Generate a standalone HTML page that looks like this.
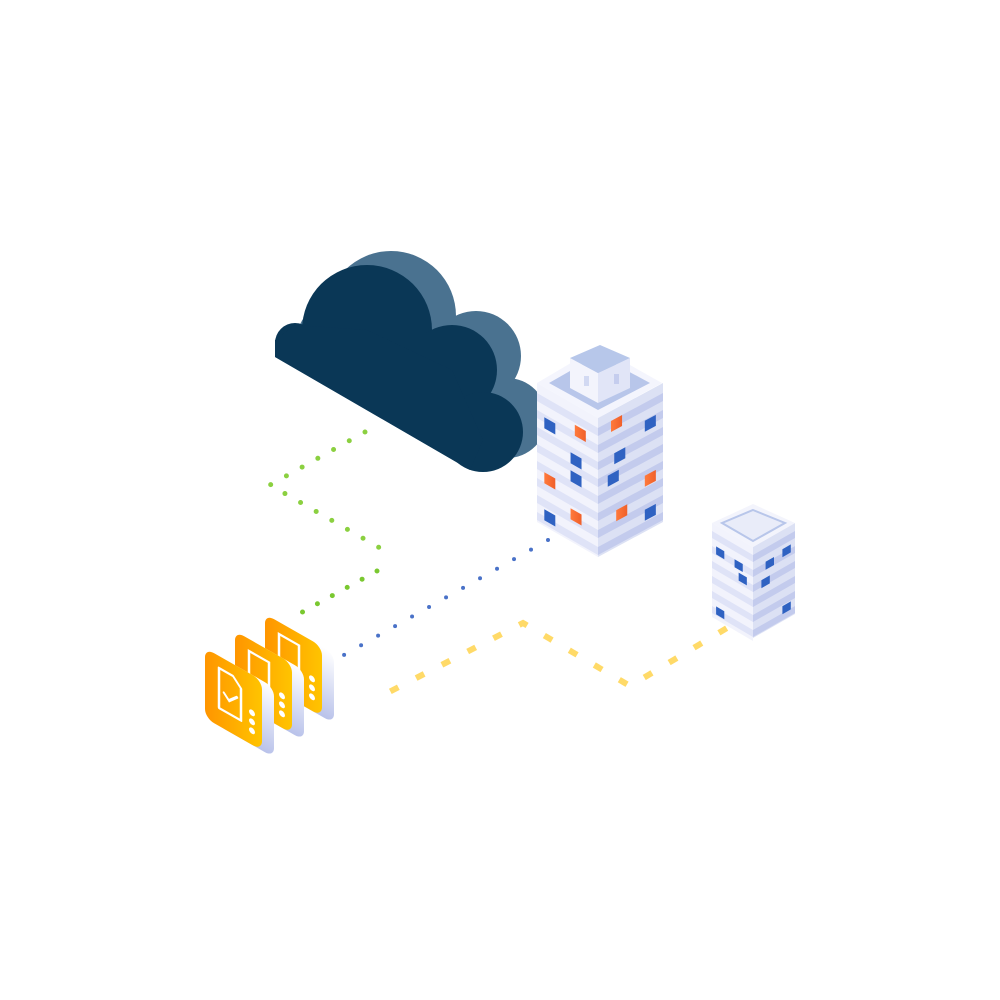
<!DOCTYPE html>
<html><head><meta charset="utf-8"><style>html,body{margin:0;padding:0;background:#fff;width:1000px;height:1000px;overflow:hidden}</style></head>
<body>
<svg width="1000" height="1000" viewBox="0 0 1000 1000" xmlns="http://www.w3.org/2000/svg">
<defs>
<linearGradient id="org" x1="0" y1="0" x2="1" y2="0"><stop offset="0" stop-color="#ff9500"/><stop offset="1" stop-color="#ffc400"/></linearGradient>
<linearGradient id="lav" x1="0" y1="0" x2="0" y2="1"><stop offset="0" stop-color="#ffffff"/><stop offset="1" stop-color="#b9c2ea"/></linearGradient>
<linearGradient id="ow" x1="0" y1="0" x2="1" y2="0"><stop offset="0" stop-color="#ff7a3c"/><stop offset="1" stop-color="#f0602a"/></linearGradient>
</defs>

<!-- dotted paths -->
<g fill="none" stroke-linecap="round">
<polyline points="365,432 270,485 380,548" stroke="#8bd040" stroke-width="5" stroke-dasharray="0 18"/>
<polyline points="377,571 297,615" stroke="#7ac830" stroke-width="5" stroke-dasharray="0 17"/>
<line x1="548" y1="540" x2="342" y2="656" stroke="#4a72c8" stroke-width="4" stroke-dasharray="0 19.5"/>
</g>
<g fill="none" stroke-linecap="square">
<polyline points="393,690 523,623 630,686 727,628" stroke="#ffd34d" stroke-width="6" stroke-dasharray="3 26" opacity="0.85"/>
</g>

<!-- cloud -->
<g transform="translate(24,-14)" fill="#4a7290">
<circle cx="295" cy="345" r="20"/><circle cx="367" cy="330" r="65"/><circle cx="452" cy="370" r="45"/><circle cx="483" cy="432" r="40"/>
<polygon points="275,340 275,357 470,470 483,440 452,370 367,330 295,330"/>
</g>
<polygon points="275,357 470,470 494,456 299,343" fill="#4a7290"/>
<g fill="#0a3756">
<circle cx="295" cy="343" r="20"/><circle cx="367" cy="330" r="65"/><circle cx="452" cy="370" r="45"/><circle cx="483" cy="432" r="40"/>
<polygon points="275,340 275,357 470,470 483,440 452,370 367,330 295,325"/>
</g>

<!-- big building -->
<g transform="matrix(61,35,0,1,537,383)">
<rect x="0" y="0" width="1" height="139" fill="#f2f3fc"/>
<g fill="#dfe3f7"><rect x="0" y="10" width="1" height="8"/><rect x="0" y="27" width="1" height="8"/><rect x="0" y="44" width="1" height="8"/><rect x="0" y="61" width="1" height="8"/><rect x="0" y="78" width="1" height="8"/><rect x="0" y="95" width="1" height="8"/><rect x="0" y="112" width="1" height="8"/><rect x="0" y="129" width="1" height="8"/></g>
<rect x="0.12" y="30" width="0.18" height="11" fill="#2f62c2"/><rect x="0.62" y="20" width="0.18" height="11" fill="url(#ow)"/>
<rect x="0.55" y="50" width="0.18" height="11" fill="#2f62c2"/>
<rect x="0.12" y="85" width="0.18" height="11" fill="url(#ow)"/><rect x="0.55" y="68" width="0.18" height="11" fill="#2f62c2"/>
<rect x="0.12" y="122" width="0.18" height="11" fill="#2f62c2"/><rect x="0.55" y="106" width="0.18" height="11" fill="url(#ow)"/>
</g>
<g transform="matrix(65,-35,0,1,598,418)">
<rect x="0" y="0" width="1" height="139" fill="#dce1f4"/>
<g fill="#c3cbed"><rect x="0" y="10" width="1" height="8"/><rect x="0" y="27" width="1" height="8"/><rect x="0" y="44" width="1" height="8"/><rect x="0" y="61" width="1" height="8"/><rect x="0" y="78" width="1" height="8"/><rect x="0" y="95" width="1" height="8"/><rect x="0" y="112" width="1" height="8"/><rect x="0" y="129" width="1" height="8"/></g>
<rect x="0.2" y="10" width="0.17" height="11" fill="url(#ow)"/><rect x="0.72" y="28" width="0.17" height="11" fill="#2f62c2"/>
<rect x="0.25" y="44" width="0.17" height="11" fill="#2f62c2"/>
<rect x="0.15" y="63" width="0.17" height="11" fill="#2f62c2"/><rect x="0.72" y="83" width="0.17" height="11" fill="url(#ow)"/>
<rect x="0.28" y="102" width="0.17" height="11" fill="url(#ow)"/><rect x="0.72" y="117" width="0.17" height="11" fill="#2f62c2"/>
</g>
<polygon points="598,347 662,383 598,418 537,383" fill="#f4f5fd"/>
<polygon points="598,355 650,383 598,410 549,383" fill="#b8c6ea"/>
<polygon points="570,358 598,373 598,403 570,388" fill="#f3f4fc"/>
<polygon points="598,373 630,358 630,388 598,403" fill="#e1e5f7"/>
<polygon points="600,345 630,358 598,373 570,358" fill="#b7c7ea"/>
<rect x="584" y="376" width="5" height="10" fill="#d2d9f2"/><rect x="614" y="374" width="5" height="10" fill="#c5cdee"/>

<!-- small building -->
<g transform="matrix(41,24,0,1,712,523)">
<rect x="0" y="0" width="1" height="94" fill="#f2f3fc"/>
<g fill="#dfe3f7"><rect x="0" y="8" width="1" height="7"/><rect x="0" y="23" width="1" height="7"/><rect x="0" y="38" width="1" height="7"/><rect x="0" y="53" width="1" height="7"/><rect x="0" y="68" width="1" height="7"/><rect x="0" y="83" width="1" height="7"/></g>
<rect x="0.1" y="21" width="0.2" height="8" fill="#2f62c2"/><rect x="0.55" y="23" width="0.2" height="8" fill="#2f62c2"/>
<rect x="0.65" y="34" width="0.2" height="8" fill="#2f62c2"/><rect x="0.1" y="81" width="0.2" height="8" fill="#2f62c2"/>
</g>
<g transform="matrix(42,-24,0,1,753,547)">
<rect x="0" y="0" width="1" height="91" fill="#dce1f4"/>
<g fill="#c3cbed"><rect x="0" y="8" width="1" height="7"/><rect x="0" y="23" width="1" height="7"/><rect x="0" y="38" width="1" height="7"/><rect x="0" y="53" width="1" height="7"/><rect x="0" y="68" width="1" height="7"/><rect x="0" y="83" width="1" height="7"/></g>
<rect x="0.7" y="19" width="0.2" height="8" fill="#2f62c2"/><rect x="0.3" y="22" width="0.2" height="8" fill="#2f62c2"/>
<rect x="0.2" y="38" width="0.2" height="8" fill="#2f62c2"/><rect x="0.7" y="76" width="0.2" height="8" fill="#2f62c2"/>
</g>
<polygon points="753,504 795,523 753,547 712,523" fill="#f3f4fc"/>
<polygon points="753,510 785,523 753,541 722,523" fill="#e9ecf9" stroke="#b8c6ea" stroke-width="2"/>

<!-- documents -->
<g transform="translate(265,614) matrix(1,0.57,0,1,0,0)">
<rect x="12" y="0" width="57" height="70" rx="9" fill="url(#lav)"/>
<rect x="0" y="0" width="57" height="70" rx="9" fill="url(#org)"/>
<rect x="14" y="12" width="20" height="46" fill="none" stroke="#fff" stroke-width="2.5"/>
<circle cx="47" cy="38" r="3" fill="#fff"/><circle cx="47" cy="47" r="3" fill="#fff"/><circle cx="47" cy="56" r="3" fill="#fff"/>
</g>
<g transform="translate(235,631) matrix(1,0.57,0,1,0,0)">
<rect x="12" y="0" width="57" height="70" rx="9" fill="url(#lav)"/>
<rect x="0" y="0" width="57" height="70" rx="9" fill="url(#org)"/>
<rect x="14" y="12" width="20" height="46" fill="none" stroke="#fff" stroke-width="2.5"/>
<circle cx="47" cy="38" r="3" fill="#fff"/><circle cx="47" cy="47" r="3" fill="#fff"/><circle cx="47" cy="56" r="3" fill="#fff"/>
</g>
<g transform="translate(205,648) matrix(1,0.57,0,1,0,0)">
<rect x="12" y="0" width="57" height="70" rx="9" fill="url(#lav)"/>
<rect x="0" y="0" width="57" height="70" rx="9" fill="url(#org)"/>
<path d="M14 12 H28 L36 20 V52 H14 Z" fill="none" stroke="#fff" stroke-width="2.5" stroke-linejoin="round"/>
<path d="M19 34 L24 39 L32 31" fill="none" stroke="#fff" stroke-width="2.5" stroke-linecap="round"/>
<circle cx="47" cy="38" r="3" fill="#fff"/><circle cx="47" cy="47" r="3" fill="#fff"/><circle cx="47" cy="56" r="3" fill="#fff"/>
</g>
</svg>
</body></html>
